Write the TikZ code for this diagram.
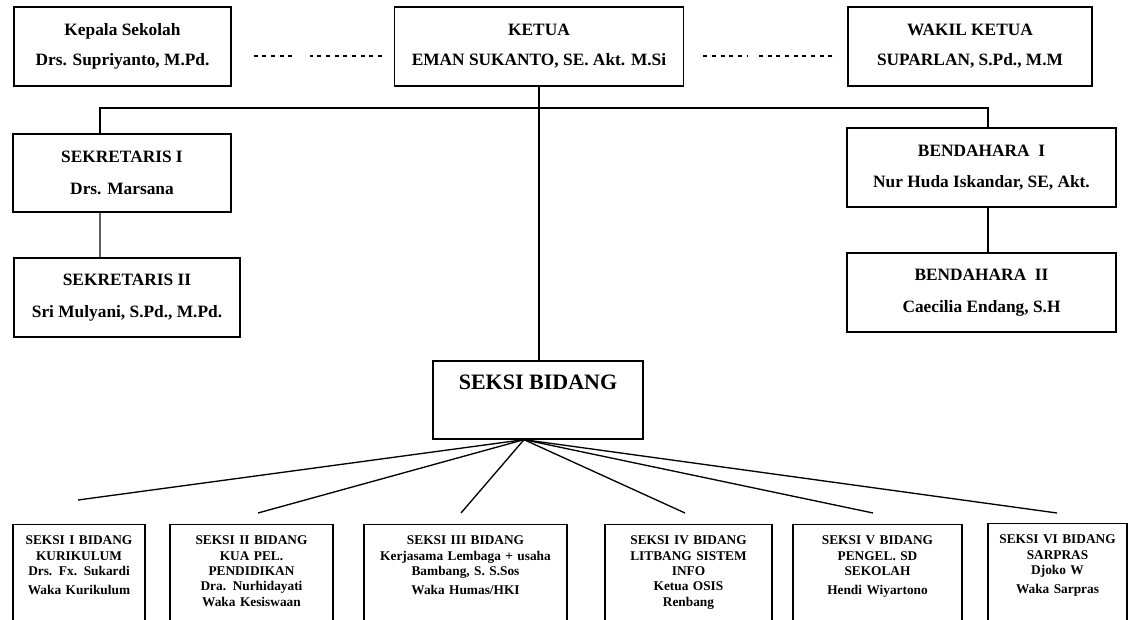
\documentclass[tikz,border=0pt]{standalone}
\usepackage{fontspec}
\setmainfont{Liberation Serif}
\usetikzlibrary{calc,positioning}

\begin{document}
\begin{tikzpicture}[x=0.75pt,y=-0.75pt,
    topbox/.style={draw, line width=1pt, align=center, inner sep=0pt,
        font=\fontsize{13}{15.6}\selectfont\bfseries},
    seksibox/.style={draw, line width=1pt, anchor=north, align=center,
        inner xsep=2pt, inner ysep=0pt, text height=15pt, text depth=72pt,
        font=\fontsize{10}{11.5}\selectfont\bfseries},
    tie/.style={line width=1pt},
    dashlink/.style={line width=0.9pt, dash pattern=on 3pt off 3.5pt}]
    \useasboundingbox (0,0) rectangle (1131,620);
    \clip (0,0) rectangle (1131,620);

    % top row
    \node[topbox, minimum width=162.75pt, minimum height=59.25pt] (kepsek) at (122.5,46.5)
        {Kepala Sekolah\\[7pt]Drs. Supriyanto, M.Pd.};
    \node[topbox, minimum width=216.75pt, minimum height=59.25pt] (ketua) at (539,46.5)
        {KETUA\\[7pt]EMAN SUKANTO, SE. Akt. M.Si};
    \node[topbox, minimum width=183pt, minimum height=59.25pt] (wakil) at (970,46.5)
        {WAKIL KETUA\\[7pt]SUPARLAN, S.Pd., M.M};

    % dashed links
    \draw[dashlink] ($(kepsek.east)+(22,9.5)$) -- ++(41,0)
        ($(ketua.west)+(-12,9.5)$) -- ++(-72,0);
    \draw[dashlink] ($(ketua.east)+(19,9.5)$) -- ++(44,0)
        ($(wakil.west)+(-15,9.5)$) -- ++(-73,0);

    % secretaries and treasurers
    \node[topbox, minimum width=163.5pt, minimum height=58.5pt] (sek1) at (122,173)
        {SEKRETARIS I\\[8pt]Drs. Marsana};
    \node[topbox, minimum width=169.5pt, minimum height=59.25pt] (sek2) at (127,297.5)
        {SEKRETARIS II\\[8pt]Sri Mulyani, S.Pd., M.Pd.};
    \node[topbox, minimum width=201.75pt, minimum height=59.25pt] (bend1) at (981.5,167.5)
        {BENDAHARA\ \ I\\[8pt]Nur Huda Iskandar, SE, Akt.};
    \node[topbox, minimum width=201.75pt, minimum height=59.25pt] (bend2) at (981.5,292.5)
        {BENDAHARA\ \ II\\[8pt]Caecilia Endang, S.H};

    % seksi bidang
    \node[draw, line width=1pt, minimum width=157.5pt, inner ysep=0pt,
        text height=21pt, text depth=37.5pt,
        font=\fontsize{16.5}{19}\selectfont\bfseries] (seksi) at (538,400) {SEKSI BIDANG};

    % bus lines
    \coordinate (busL) at (100,108);
    \coordinate (busR) at (988,108);
    \draw[tie] (ketua.south) -- (ketua.south |- seksi.north);
    \draw[tie] (sek1.north -| busL) -- (busL) -- (busR) -- (bend1.north -| busR);
    \draw[line width=1.3pt, gray!75!black] (sek1.south -| busL) -- (sek2.north -| busL);
    \draw[tie] (bend1.south -| busR) -- (bend2.north -| busR);

    % bottom row
    \node[seksibox, text width=95pt] (s1) at (79,524)
        {SEKSI I BIDANG\\KURIKULUM\\Drs. Fx. Sukardi\\[3pt]Waka Kurikulum};
    \node[seksibox, text width=118.25pt] (s2) at (251.5,524)
        {SEKSI II BIDANG\\KUA PEL.\\PENDIDIKAN\\Dra. Nurhidayati\\Waka Kesiswaan};
    \node[seksibox, text width=148.25pt] (s3) at (465.5,524)
        {SEKSI III BIDANG\\Kerjasama Lembaga + usaha\\Bambang, S. S.Sos\\[3pt]Waka Humas/HKI};
    \node[seksibox, text width=121.25pt] (s4) at (688.5,524)
        {SEKSI IV BIDANG\\LITBANG SISTEM\\INFO\\Ketua OSIS\\Renbang};
    \node[seksibox, text width=122.75pt] (s5) at (877.5,524)
        {SEKSI V BIDANG\\PENGEL. SD\\SEKOLAH\\[3pt]Hendi Wiyartono};
    \node[seksibox, text width=100.25pt] (s6) at (1057.5,523)
        {SEKSI VI BIDANG\\SARPRAS\\Djoko W\\[3pt]Waka Sarpras};

    % fan lines
    \coordinate (fan) at ($(seksi.south)+(-14,0)$);
    \coordinate (e1) at (78,500);
    \coordinate (e2) at (258,513);
    \coordinate (e3) at (461,513);
    \coordinate (e4) at (685,513);
    \coordinate (e5) at (873,513);
    \coordinate (e6) at (1057,513);
    \foreach \i in {1,...,6}
        \draw[tie] (fan) -- (e\i);
\end{tikzpicture}
\end{document}
